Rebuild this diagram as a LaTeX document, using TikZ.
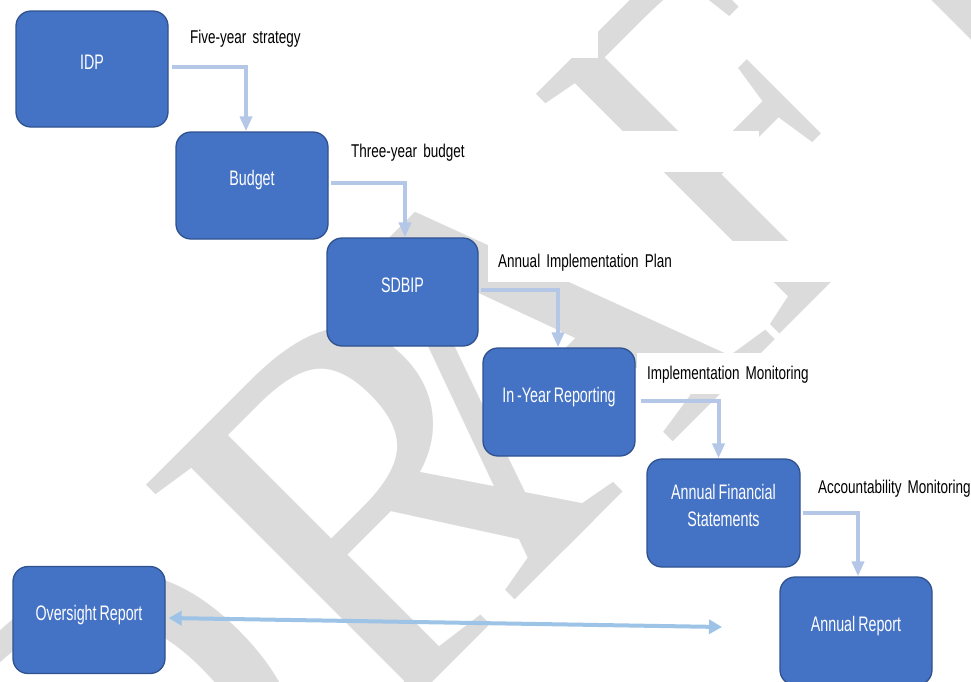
\documentclass[tikz,border=0pt]{standalone}
\usepackage{fontspec}
\setmainfont{Liberation Sans}
\newfontfamily\boxfont[FakeStretch=0.68,WordSpace=0.75]{Liberation Sans}
\newfontfamily\lblfont[FakeStretch=0.73,WordSpace=0.6]{Liberation Sans}
\newfontfamily\wmfont{Liberation Serif}
\usetikzlibrary{arrows.meta}
\definecolor{boxblue}{HTML}{4472C4}
\definecolor{boxedge}{HTML}{2F528F}
\definecolor{flowblue}{HTML}{B4C7E7}
\definecolor{linkblue}{HTML}{9DC3E6}
\definecolor{wmgray}{RGB}{219,219,219}
\begin{document}
\begin{tikzpicture}[x=1pt,y=1pt,
  box/.style={draw=boxedge, line width=1.3pt, fill=boxblue, rounded corners=15pt,
    minimum width=152pt, minimum height=107pt, inner sep=0pt},
  boxtxt/.style={text=white, font=\boxfont\fontsize{21}{27}\selectfont, inner sep=0pt, anchor=base},
  lbl/.style={fill=white, anchor=base west, inner xsep=10.5pt, inner ysep=0pt,
    minimum height=41pt, text width=397pt, align=left, text height=15.5pt, text depth=4pt,
    font=\lblfont\fontsize{18.5}{22}\selectfont},
  flow/.style={draw=flowblue, line width=4pt, -{Triangle[width=12pt,length=15pt]}},
  link/.style={draw=linkblue, line width=4pt, {Triangle[width=14pt,length=13pt]}-{Triangle[width=14pt,length=13pt]}},
  wm/.style={text=wmgray, font=\wmfont\fontsize{522}{522}\selectfont, inner sep=0pt,
    rotate=45, anchor=base west},
]
\useasboundingbox (0,0) rectangle (971,-681);
\clip (0,0) rectangle (971,-681);

% watermark DRAFT
\node[wm] (wmD) at (109.6,-1004.9) {D};
\node[wm] (wmR) at (376.9,-737.6) {R};
\node[wm] (wmA) at (511.3,-603.2) {A};
\node[wm, xscale=0.8] (wmF) at (769.4,-345.1) {F};
\node[wm] (wmT) at (927.8,-186.7) {T};

% label text boxes
\node[lbl] (l1) at (179.5,-43) {Five-year strategy};
\node[lbl] (l2) at (340.5,-157) {Three-year budget};
\node[lbl] (l3) at (487.5,-267) {Annual Implementation Plan};
\node[lbl] (l4) at (636.5,-379) {Implementation Monitoring};
\node[lbl] (l5) at (807.5,-493) {Accountability Monitoring};

% boxes
\node[box, minimum height=116pt] (idp) at (92,-69) {};
\node[box] (budget) at (252,-185.5) {};
\node[box, minimum width=151pt, minimum height=108pt] (sdbip) at (402.5,-292) {};
\node[box, minimum height=108pt] (iyr) at (559,-402) {};
\node[box, minimum width=153pt, minimum height=108pt] (afs) at (723.5,-513) {};
\node[box, minimum height=108pt] (ar) at (856,-631) {};
\node[box] (osr) at (89,-620) {};

\node[boxtxt] (idpt) at (idp.center) {IDP};
\node[boxtxt] (budgett) at (budget.center) {Budget};
\node[boxtxt] (sdbipt) at (sdbip.center) {SDBIP};
\node[boxtxt] (iyrt) at (iyr.center) {In -Year Reporting};
\node[boxtxt] (afst1) at ([yshift=14pt]afs.center) {Annual Financial};
\node[boxtxt] (afst2) at ([yshift=-13pt]afs.center) {Statements};
\node[boxtxt] (art) at (ar.center) {Annual Report};
\node[boxtxt] (osrt) at (osr.center) {Oversight Report};

% flow connectors
\draw[flow] ([xshift=3pt,yshift=2pt]idp.east) -| ([xshift=-6pt]budget.north);
\draw[flow] ([xshift=2pt,yshift=2.5pt]budget.east) -| ([xshift=2.5pt]sdbip.north);
\draw[flow] ([xshift=2pt,yshift=2pt]sdbip.east) -| ([xshift=-1pt]iyr.north);
\draw[flow] ([xshift=5pt,yshift=1pt]iyr.east) -| ([xshift=-5pt]afs.north);
\draw[flow] ([xshift=2pt]afs.east) -| ([xshift=2pt]ar.north);

% oversight link
\coordinate (linkend) at (722,-627);
\draw[link] ([xshift=3pt,yshift=2pt]osr.east) -- (linkend);
\end{tikzpicture}
\end{document}
